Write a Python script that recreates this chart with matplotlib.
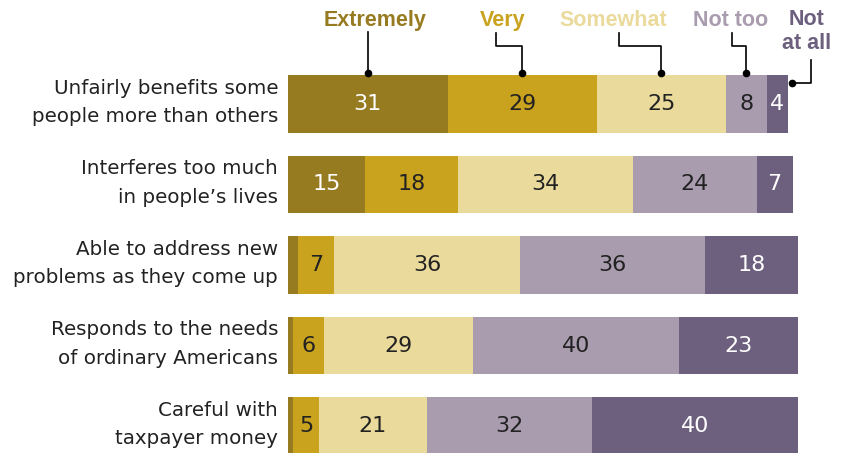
import numpy as np
import matplotlib
matplotlib.use("Agg")
import matplotlib.pyplot as plt

plt.rcParams['font.family'] = ['DejaVu Sans']

categories = [
    "Unfairly benefits some\npeople more than others",
    "Interferes too much\nin people\u2019s lives",
    "Able to address new\nproblems as they come up",
    "Responds to the needs\nof ordinary Americans",
    "Careful with\ntaxpayer money",
]
responses = ["Extremely", "Very", "Somewhat", "Not too", "Not\nat all"]
extremely = [31, 15, 2, 1, 1]
very = [29, 18, 7, 6, 5]
somewhat = [25, 34, 36, 29, 21]
not_too = [8, 24, 36, 40, 32]
not_at_all = [4, 7, 18, 23, 40]

colors = ["#977B21", "#C9A31E", "#EADB9C", "#A99CAF", "#6D5F7E"]
text_colors = ["white", "#222222", "#222222", "#222222", "white"]

W, H = 842, 453
fig = plt.figure(figsize=(W / 100, H / 100), dpi=100)

# axes placed so that 0 sits at x=288px and one unit is ~5.15px
x0_px, unit_px = 288, 5.15
row0_px, row_step = 104, 80.5
ax = fig.add_axes([x0_px / W, 0, unit_px * 100 / W, 1])
ax.set_xlim(0, 100)
ax.set_ylim((H - row0_px) / row_step, -row0_px / row_step)
ax.axis("off")

series = [extremely, very, somewhat, not_too, not_at_all]
y = np.arange(len(categories))
left = np.zeros(len(categories))
bar_h = 0.72
for vals, col, tcol in zip(series, colors, text_colors):
    vals = np.array(vals)
    ax.barh(y, vals, left=left, height=bar_h, color=col, linewidth=0)
    for yi, l, v in zip(y, left, vals):
        if v >= 3:
            ax.text(l + v / 2, yi, str(v), ha="center", va="center",
                    color=tcol, fontsize=16)
    left = left + vals

for yi, cat in zip(y, categories):
    ax.text(-1.9, yi - 0.02, cat, ha="right", va="center", fontsize=14.3,
            color="#222222", linespacing=1.64)

# legend labels with leader lines pointing at the first bar
leg_font = dict(family="Liberation Sans", fontsize=15.5, fontweight="bold")
top = -bar_h / 2 - 0.029
first = np.array([s[0] for s in series])
mids = np.cumsum(first) - first / 2
total = first.sum()
label_y = -1.04
lab_x = [16.9, 41.6, 63.1, 86.0, 100.6]
start_x = [None, 40.3, 64.3, 86.2, None]
for i, (name, col) in enumerate(zip(responses, colors)):
    if i == 4:
        ax.text(lab_x[i], -0.90, name, ha="center", va="center", color=col,
                linespacing=1.2, clip_on=False, **leg_font)
        ax.plot([101.5, 101.5, total + 0.8], [-0.547, -0.261, -0.261],
                color="black", lw=1.2, clip_on=False)
        ax.plot(total + 0.8, -0.261, "o", color="black", ms=4.5)
        continue
    ax.text(lab_x[i], label_y, name, ha="center", va="center", color=col,
            **leg_font)
    if start_x[i] is None:
        ax.plot([mids[i], mids[i]], [-0.894, top], color="black", lw=1.2)
    else:
        ax.plot([start_x[i], start_x[i], mids[i], mids[i]],
                [-0.882, -0.72, -0.72, top], color="black", lw=1.2)
    ax.plot(mids[i], top, "o", color="black", ms=4.5)

fig.savefig("out.png", dpi=100)
